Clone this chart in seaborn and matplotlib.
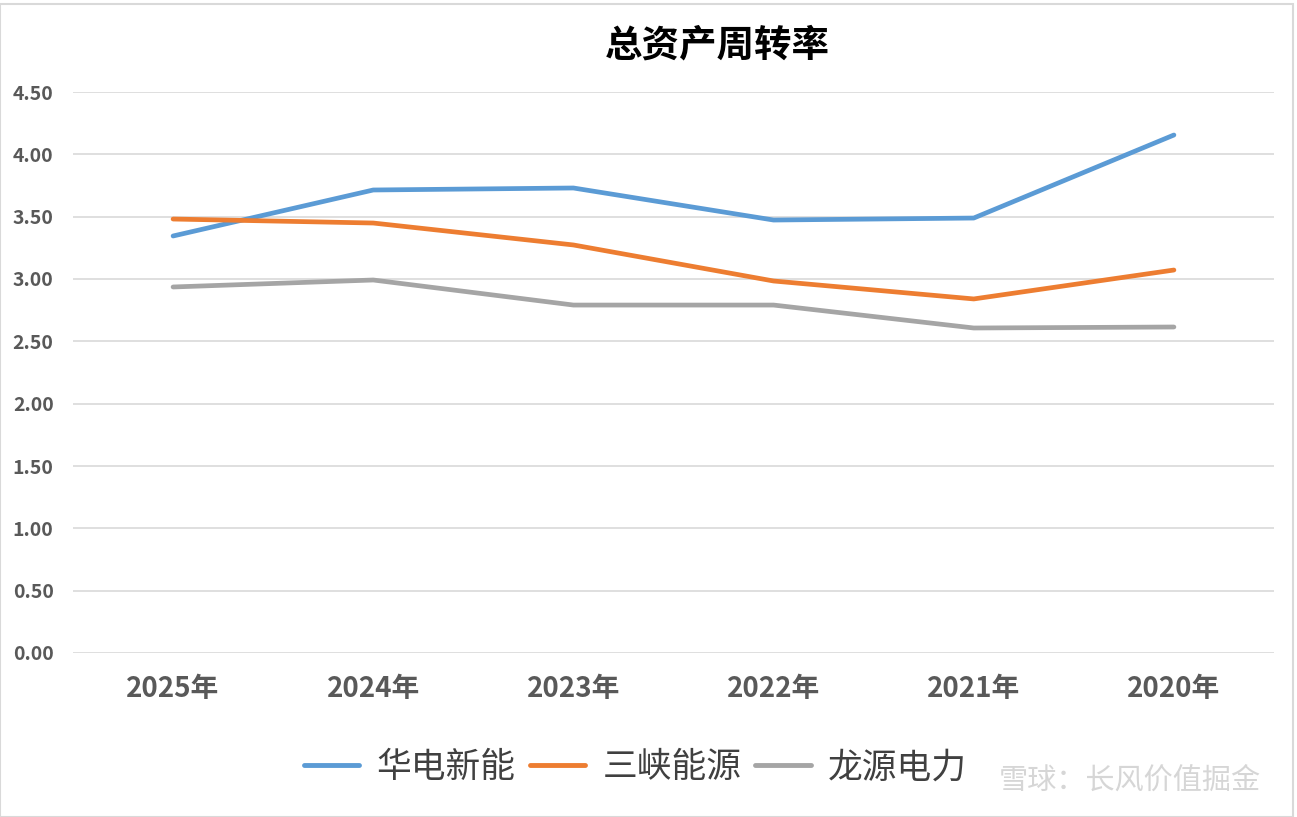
import matplotlib
matplotlib.use('Agg')
import matplotlib.pyplot as plt
import seaborn as sns
import pandas as pd

# data
years = ['2025年', '2024年', '2023年', '2022年', '2021年', '2020年']
huadian = [3.345, 3.714, 3.730, 3.473, 3.489, 4.155]
sanxia = [3.481, 3.449, 3.273, 2.984, 2.840, 3.072]
longyuan = [2.936, 2.992, 2.791, 2.791, 2.607, 2.615]
series_names = ['华电新能', '三峡能源', '龙源电力']
colors = ['#5B9BD5', '#ED7D31', '#A5A5A5']
yticks = [0.0, 0.5, 1.0, 1.5, 2.0, 2.5, 3.0, 3.5, 4.0, 4.5]

df = pd.DataFrame({'year': years * 3,
                   'value': huadian + sanxia + longyuan,
                   'company': [n for n in series_names for _ in years]})

sns.set_style('white')
plt.rcParams['font.family'] = ['Noto Sans CJK SC', 'DejaVu Sans']

fig = plt.figure(figsize=(12.97, 8.17), dpi=100)
ax = fig.add_axes([73 / 1297, 1 - 653 / 817, (1274 - 73) / 1297, (653 - 92) / 817])

sns.lineplot(data=df, x='year', y='value', hue='company', palette=colors,
             hue_order=series_names, sort=False, linewidth=3.4, ax=ax, legend=False)

ax.set_xlim(-0.5, len(years) - 0.5)
ax.set_ylim(0, 4.5)
ax.set_yticks(yticks)
ax.set_yticklabels([f'{v:.2f}' for v in yticks], fontsize=14, fontweight='bold', color='#595959')
ax.set_xticks(range(len(years)))
ax.set_xticklabels(years, fontsize=20, fontweight='bold', color='#595959')
ax.tick_params(axis='x', length=0, pad=16)
ax.tick_params(axis='y', length=0, pad=14)
ax.yaxis.grid(True, color='#D9D9D9', linewidth=1.2)
ax.set_axisbelow(True)
for s in ax.spines.values():
    s.set_visible(False)
ax.set_xlabel('')
ax.set_ylabel('')

fig.text(0.553, 0.945, '总资产周转率', ha='center', va='center', fontsize=27,
         fontweight='bold', color='#000000')

handles = [plt.Line2D([], [], color=c, linewidth=3.5) for c in colors]
fig.legend(handles, series_names, loc='center', bbox_to_anchor=(0.49, 0.06), ncol=3,
           frameon=False, fontsize=25, handlelength=1.6, columnspacing=0.4,
           handletextpad=0.5, labelcolor='#404040')

# faint watermark, kept clear of the legend
fig.text(0.972, 0.045, '雪球：长风价值掘金', ha='right', va='center', fontsize=21,
         color='#CCCCCC', alpha=0.8)

border = plt.Rectangle((0, 0), 0.997, 0.995, transform=fig.transFigure, fill=False,
                       edgecolor='#D9D9D9', linewidth=1.5)
fig.patches.append(border)

fig.savefig('out.png', dpi=100, facecolor='white')
